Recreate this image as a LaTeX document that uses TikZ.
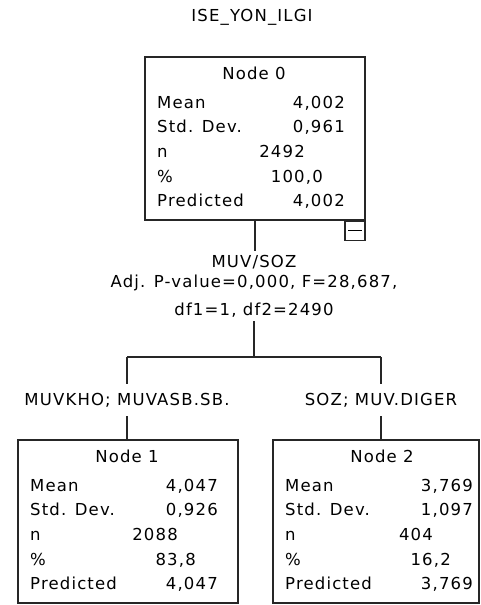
\documentclass[tikz,border=0pt]{standalone}
\usepackage{fontspec}
\setmainfont{DejaVu Sans}[LetterSpace=7]
\usetikzlibrary{positioning}

% one box of the tree: name, left x, top y, width, title, mean, sd, n, pct
\newcommand{\statbox}[9]{%
  \node[treebox, minimum width=#4pt, anchor=north west] (#1) at (#2,#3) {};
  \node[txt, anchor=base] (#1-t) at ([xshift=110pt, yshift=-23.5pt]#1.north west) {#5};
  \node[txt, anchor=base west] (#1-la) at ([xshift=13pt, yshift=-52pt]#1.north west) {Mean};
  \node[txt, anchor=base west] (#1-lb) at ([xshift=13pt, yshift=-76pt]#1.north west) {Std. Dev.};
  \node[txt, anchor=base west] (#1-lc) at ([xshift=13pt, yshift=-101pt]#1.north west) {n};
  \node[txt, anchor=base west] (#1-ld) at ([xshift=13pt, yshift=-126pt]#1.north west) {\%};
  \node[txt, anchor=base west] (#1-le) at ([xshift=13pt, yshift=-150pt]#1.north west) {Predicted};
  \node[txt, anchor=base east] (#1-va) at ([xshift=201pt, yshift=-52pt]#1.north west) {#6};
  \node[txt, anchor=base east] (#1-vb) at ([xshift=201pt, yshift=-76pt]#1.north west) {#7};
  \node[txt, anchor=base east] (#1-vc) at ([xshift=161pt, yshift=-101pt]#1.north west) {#8};
  \node[txt, anchor=base east] (#1-vd) at ([xshift=179pt, yshift=-126pt]#1.north west) {#9};
  \node[txt, anchor=base east] (#1-ve) at ([xshift=201pt, yshift=-150pt]#1.north west) {#6};
}

\begin{document}
\begin{tikzpicture}[x=1pt, y=-1pt,
    txt/.style={font=\fontsize{16.5}{20}\selectfont, inner sep=0pt},
    treebox/.style={draw=black!85, line width=1.6pt, minimum height=163pt, inner sep=0pt},
    link/.style={draw=black!85, line width=1.6pt}]
    \useasboundingbox (0,0) rectangle (480,605);

    \node[txt] (title) at (252,17) {ISE\_YON\_ILGI};

    % root and its collapse button
    \statbox{n0}{144}{56}{220}{Node 0}{4,002}{0,961}{2492}{100,0}
    \node[draw=black!85, line width=1.2pt, minimum width=20pt, minimum height=19pt, inner sep=0pt, anchor=north east] (n0-btn) at (n0.south east) {};
    \draw[line width=1.2pt] ([xshift=4pt]n0-btn.west) -- ([xshift=-4pt]n0-btn.east);

    % split
    \node[txt, align=center, inner sep=4pt] (split) at (254,286) {MUV/SOZ\\Adj. P-value=0,000, F=28,687,\\[8pt]df1=1, df2=2490};
    \coordinate (fork) at (254,357);
    \coordinate (forkL) at (127,357);
    \coordinate (forkR) at (381,357);
    \node[txt, inner sep=0pt] (catL) at (127,400) {MUVKHO; MUVASB.SB.};
    \node[txt, inner sep=0pt] (catR) at (381,400) {SOZ; MUV.DIGER};

    % children
    \statbox{n1}{17}{439}{220}{Node 1}{4,047}{0,926}{2088}{83,8}
    \statbox{n2}{272}{439}{206}{Node 2}{3,769}{1,097}{404}{16,2}

    \draw[link] (n0.south) -- (n0.south |- split.north);
    \draw[link] (fork |- split.south) -- (fork);
    \draw[link] (forkL) -- (forkR);
    \draw[link] (forkL) -- ([yshift=9pt]catL.north);
    \draw[link] (forkR) -- ([yshift=9pt]catR.north);
    \draw[link] ([yshift=-9pt]catL.south) -- (catL |- n1.north);
    \draw[link] ([yshift=-9pt]catR.south) -- (catR |- n2.north);
\end{tikzpicture}
\end{document}
